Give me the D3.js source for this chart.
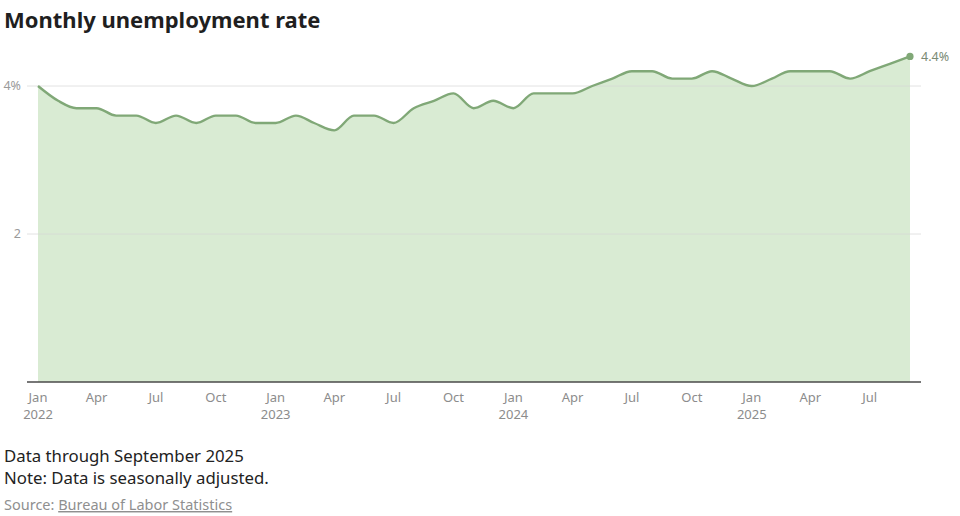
<!DOCTYPE html>
<html>
<head>
<meta charset="utf-8">
<script src="https://cdn.jsdelivr.net/npm/d3@7"></script>
<style>
  html, body { margin: 0; padding: 0; background: #fff; }
  svg { display: block; }
  text { font-family: "Noto Sans", "Open Sans", sans-serif; }
</style>
</head>
<body>
<svg id="chart" width="960" height="516"></svg>
<script>
// ---- Data ----
const startMonth = "2022-01";
const rates = [
  // 2022
  4.0, 3.8, 3.7, 3.7, 3.6, 3.6, 3.5, 3.6, 3.5, 3.6, 3.6, 3.5,
  // 2023
  3.5, 3.6, 3.5, 3.4, 3.6, 3.6, 3.5, 3.7, 3.8, 3.9, 3.7, 3.8,
  // 2024
  3.7, 3.9, 3.9, 3.9, 4.0, 4.1, 4.2, 4.2, 4.1, 4.1, 4.2, 4.1,
  // 2025
  4.0, 4.1, 4.2, 4.2, 4.2, 4.1, 4.2, 4.3, 4.4
];
const yTicks = [2, 4];
const yTickLabels = ["2", "4%"];
const monthNames = ["Jan","Feb","Mar","Apr","May","Jun","Jul","Aug","Sep","Oct","Nov","Dec"];
const title = "Monthly unemployment rate";
const note1 = "Data through September 2025";
const note2 = "Note: Data is seasonally adjusted.";
const sourceLabel = "Source: ";
const sourceName = "Bureau of Labor Statistics";
const lastLabel = "4.4%";

// ---- Build dated series ----
const parse = d3.timeParse("%Y-%m");
const start = parse(startMonth);
const data = rates.map((v, i) => ({ date: d3.timeMonth.offset(start, i), value: v }));

const svg = d3.select("#chart");

const x = d3.scaleTime()
  .domain(d3.extent(data, d => d.date))
  .range([38, 910]);
const y = d3.scaleLinear()
  .domain([0, 4])
  .range([382, 86]);

const gridLeft = 27, gridRight = 921;

// Title
svg.append("text")
  .attr("x", 4).attr("y", 28)
  .attr("font-family", "Lato, sans-serif")
  .attr("font-weight", 700)
  .attr("font-size", 22)
  .attr("fill", "#1f1f1f")
  .text(title);

// Area
const area = d3.area()
  .x(d => x(d.date))
  .y0(y(0))
  .y1(d => y(d.value))
  .curve(d3.curveMonotoneX);
svg.append("path")
  .datum(data)
  .attr("d", area)
  .attr("fill", "#d9ebd3");

// Grid lines
svg.append("g").selectAll("line")
  .data(yTicks)
  .join("line")
  .attr("x1", gridLeft).attr("x2", gridRight)
  .attr("y1", d => y(d)).attr("y2", d => y(d))
  .attr("stroke", "#d6d6d6")
  .attr("stroke-opacity", 0.7)
  .attr("stroke-width", 1);

// Y labels
svg.append("g").selectAll("text")
  .data(yTicks)
  .join("text")
  .attr("x", 21)
  .attr("y", d => y(d))
  .attr("dy", "0.35em")
  .attr("text-anchor", "end")
  .attr("font-size", 12.5)
  .attr("fill", "#9a9a9a")
  .text((d, i) => yTickLabels[i]);

// Line
const line = d3.line()
  .x(d => x(d.date))
  .y(d => y(d.value))
  .curve(d3.curveMonotoneX);
svg.append("path")
  .datum(data)
  .attr("d", line)
  .attr("fill", "none")
  .attr("stroke", "#80a877")
  .attr("stroke-width", 2.4)
  .attr("stroke-linejoin", "round");

// Last point
const last = data[data.length - 1];
svg.append("circle")
  .attr("cx", x(last.date)).attr("cy", y(last.value))
  .attr("r", 3.6)
  .attr("fill", "#80a877");
svg.append("text")
  .attr("x", x(last.date) + 11)
  .attr("y", y(last.value))
  .attr("dy", "0.35em")
  .attr("font-size", 12.5)
  .attr("fill", "#7a8a74")
  .text(lastLabel);

// X axis baseline
svg.append("line")
  .attr("x1", gridLeft).attr("x2", gridRight)
  .attr("y1", y(0)).attr("y2", y(0))
  .attr("stroke", "#4a4a4a")
  .attr("stroke-width", 1.6);

// X ticks (every 3 months): month row and year row as separate texts
const xTickDates = d3.timeMonth.every(3).range(start, d3.timeMonth.offset(last.date, 1));
svg.append("g").selectAll("text")
  .data(xTickDates)
  .join("text")
  .attr("x", d => x(d))
  .attr("y", 402)
  .attr("text-anchor", "middle")
  .attr("font-size", 13)
  .attr("fill", "#8c8c8c")
  .text(d => monthNames[d.getMonth()]);
svg.append("g").selectAll("text")
  .data(xTickDates.filter(d => d.getMonth() === 0))
  .join("text")
  .attr("x", d => x(d))
  .attr("y", 419)
  .attr("text-anchor", "middle")
  .attr("font-size", 13)
  .attr("fill", "#8c8c8c")
  .text(d => d.getFullYear());

// Notes
svg.append("text")
  .attr("x", 4).attr("y", 462)
  .attr("font-size", 16.8)
  .attr("fill", "#222")
  .text(note1);
svg.append("text")
  .attr("x", 4).attr("y", 484)
  .attr("font-size", 16.8)
  .attr("fill", "#222")
  .text(note2);
const src = svg.append("text")
  .attr("x", 4).attr("y", 510)
  .attr("font-size", 14.5)
  .attr("fill", "#8f8f8f");
src.append("tspan").text(sourceLabel);
src.append("tspan").attr("text-decoration", "underline").text(sourceName);
</script>
</body>
</html>
